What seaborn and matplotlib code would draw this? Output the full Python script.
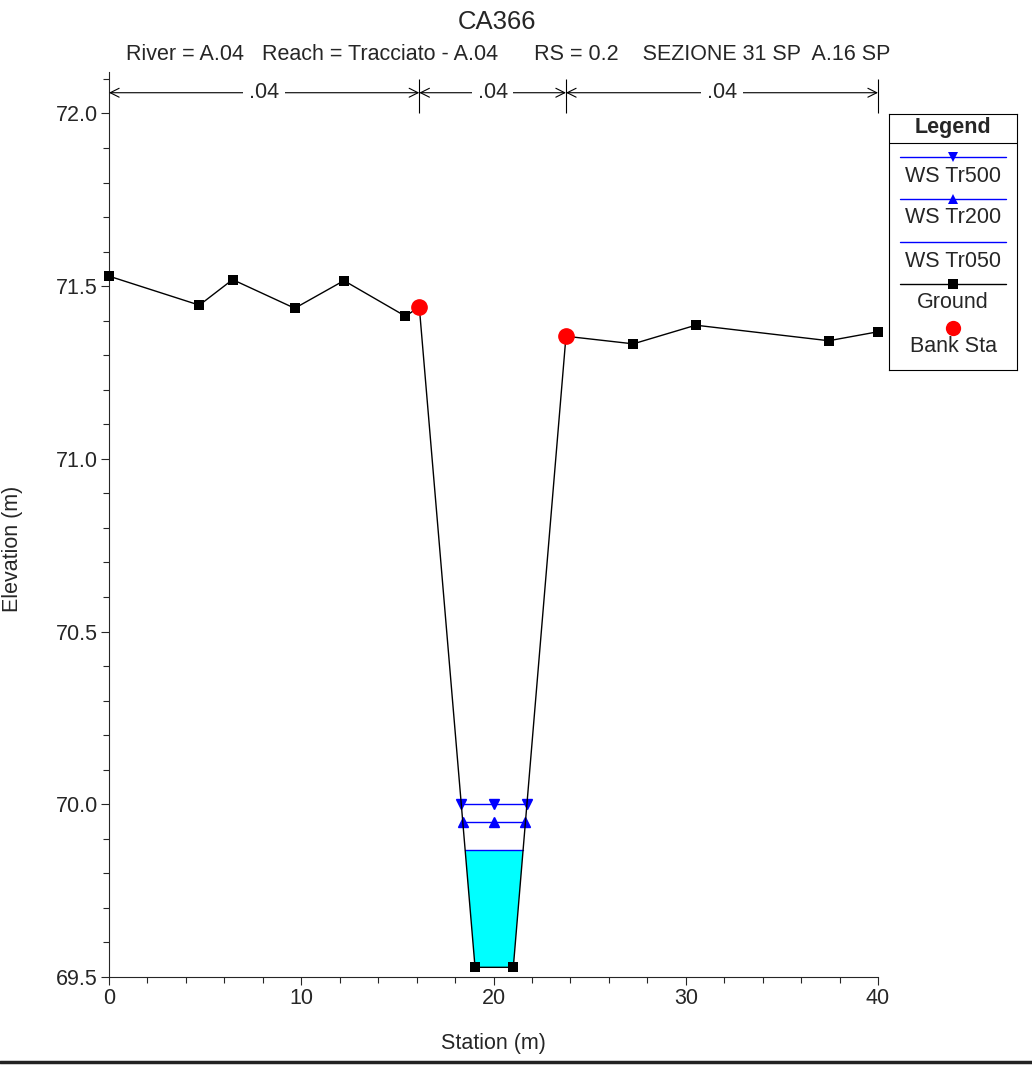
import numpy as np
import matplotlib
matplotlib.use("Agg")
import matplotlib.pyplot as plt
from matplotlib.lines import Line2D
from matplotlib.ticker import MultipleLocator
import seaborn as sns

# Ground profile (station m, elevation m)
station = [0.0, 4.70, 6.43, 9.66, 12.22, 15.42, 16.14, 19.04, 21.03, 23.77, 27.27, 30.52, 37.44, 40.0]
elevation = [71.529, 71.445, 71.519, 71.436, 71.516, 71.413, 71.440, 69.528, 69.528, 71.355, 71.333, 71.387, 71.342, 71.368]

# Bank stations
bank_sta = [16.14, 23.77]
bank_elev = [71.440, 71.355]

# Water surfaces
ws_names = ["WS Tr500", "WS Tr200", "WS Tr050"]
ws_levels = [70.001, 69.950, 69.867]
ws_markers = ["v", "^", None]

# Manning's n regions
n_breaks = [0.0, 16.14, 23.77, 40.0]
n_values = [0.04, 0.04, 0.04]

sns.set_style("ticks")
plt.rcParams["font.family"] = ["Liberation Sans", "DejaVu Sans"]

FS = 15.5
fig = plt.figure(figsize=(10.32, 10.67), dpi=100)
ax = fig.add_axes([109 / 1032, 90 / 1067, 769 / 1032, 905 / 1067])

st = np.array(station)
el = np.array(elevation)


def edges(w):
    # walk out from the channel low point to the ground crossings
    i0 = int(np.argmin(el))
    i = i0
    while el[i] < w:
        i -= 1
    xl = np.interp(w, [el[i + 1], el[i]], [st[i + 1], st[i]])
    j = i0
    while el[j] < w:
        j += 1
    xr = np.interp(w, [el[j - 1], el[j]], [st[j - 1], st[j]])
    return xl, xr, i, j


# filled Tr050 water
w = ws_levels[2]
xl, xr, i, j = edges(w)
px = [xl] + list(st[i + 1:j]) + [xr]
py = [w] + list(el[i + 1:j]) + [w]
ax.fill(px, py, color="#00FFFF", zorder=1, lw=0)

for name, lev, mk in zip(ws_names, ws_levels, ws_markers):
    xl, xr, _, _ = edges(lev)
    xs = [xl, (xl + xr) / 2, xr]
    ax.plot(xs, [lev] * 3, color="#0000FF", lw=1.0, marker=mk, ms=7.5, zorder=2)

sns.lineplot(x=station, y=elevation, sort=False, color="black", lw=1.0,
             marker="s", markersize=7, markeredgewidth=0, ax=ax, zorder=3, clip_on=False)
ax.plot(bank_sta, bank_elev, ls="none", marker="o", color="#FF0000", ms=11, zorder=4)

ax.set_xlim(0, 40)
ax.set_ylim(69.5, 72.12)
ax.xaxis.set_major_locator(MultipleLocator(10))
ax.xaxis.set_minor_locator(MultipleLocator(2))
ax.yaxis.set_major_locator(MultipleLocator(0.5))
ax.yaxis.set_minor_locator(MultipleLocator(0.1))
ax.yaxis.set_major_formatter(matplotlib.ticker.FormatStrFormatter("%.1f"))
ax.tick_params(which="major", length=6, width=0.8, labelsize=FS, pad=2, direction="out")
ax.tick_params(which="minor", length=4, width=0.8, direction="out")
ax.set_xlabel("")
ax.set_ylabel("")
for s in ["top", "right"]:
    ax.spines[s].set_visible(False)
for s in ["left", "bottom"]:
    ax.spines[s].set_linewidth(0.8)

# Manning's n breaks and arrows
ax.vlines(n_breaks[1:], 72.0, 72.1, color="black", lw=0.8, clip_on=False)
y_arr = 72.06
for a, b, n in zip(n_breaks[:-1], n_breaks[1:], n_values):
    ax.annotate("", xy=(b, y_arr), xytext=(a, y_arr),
                arrowprops=dict(arrowstyle="<->", color="black", lw=0.8,
                                shrinkA=0, shrinkB=0, mutation_scale=16),
                annotation_clip=False)
    ax.text((a + b) / 2, y_arr, f"{n:.2f}".lstrip("0"), ha="center", va="center",
            fontsize=FS, bbox=dict(facecolor="white", edgecolor="none", pad=4))

# titles and axis labels
fig.text(497 / 1032, 1 - 22 / 1067, "CA366", ha="center", va="center", fontsize=18.5)
fig.text(508 / 1032, 1 - 55 / 1067,
         "River = A.04   Reach = Tracciato - A.04      RS = 0.2    SEZIONE 31 SP  A.16 SP",
         ha="center", va="center", fontsize=FS)
fig.text(493.5 / 1032, 1 - 1043 / 1067, "Station (m)", ha="center", va="center", fontsize=FS)
fig.text(13 / 1032, 1 - 549 / 1067, "Elevation (m)", ha="center", va="center",
         rotation=90, fontsize=FS)

# custom legend box
lax = fig.add_axes([889 / 1032, 1 - 370 / 1067, 128 / 1032, 256 / 1067])
lax.set_xlim(0, 128)
lax.set_ylim(256, 0)
lax.set_xticks([])
lax.set_yticks([])
for s in lax.spines.values():
    s.set_linewidth(0.8)
    s.set_color("black")
lax.text(64, 14, "Legend", ha="center", va="center", fontsize=FS, fontweight="bold")
lax.axhline(29, color="black", lw=0.8)
entries = [("WS Tr500", "#0000FF", "v", True),
           ("WS Tr200", "#0000FF", "^", True),
           ("WS Tr050", "#0000FF", None, True),
           ("Ground", "black", "s", True),
           ("Bank Sta", "#FF0000", "o", False)]
line_y = [43, 85, 128, 170, 214]
lab_y = [63, 104, 148, 189, 233]
for (lab, c, mk, has_line), ly, ty in zip(entries, line_y, lab_y):
    if has_line:
        lax.plot([11, 117], [ly, ly], color=c, lw=1.0)
    if mk is not None:
        ms = 11 if mk == "o" else 7
        lax.plot([64], [ly], marker=mk, color=c, ms=ms, ls="none", markeredgewidth=0)
    lax.text(64, ty, lab, ha="center", va="center", fontsize=FS)

fig.add_artist(Line2D([0, 1], [5.5 / 1067, 5.5 / 1067], transform=fig.transFigure,
                      color="#222222", lw=2.5))

fig.savefig("out.png", dpi=100)
